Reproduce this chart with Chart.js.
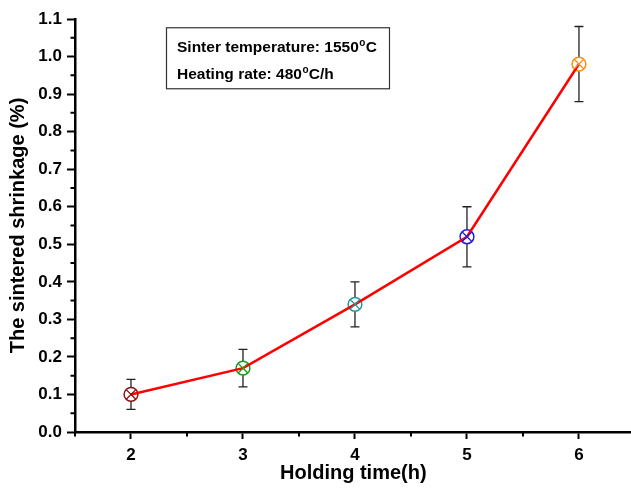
<!DOCTYPE html>
<html>
<head>
<meta charset="utf-8">
<script src="https://cdn.jsdelivr.net/npm/chart.js@4"></script>
<style>
html,body{margin:0;padding:0;background:#fff;overflow:hidden;}
#wrap{width:631px;height:488px;position:relative;overflow:hidden;}
</style>
</head>
<body>
<div id="wrap"><canvas id="c" width="640" height="488"></canvas></div>
<script>
const holdingTime = [2, 3, 4, 5, 6];
const shrinkage = [0.10, 0.17, 0.34, 0.52, 0.98];
const shrinkageErr = [0.04, 0.05, 0.06, 0.08, 0.10];
const markerColors = ['#8B1010', '#1A9A1A', '#1A9A9A', '#2020D8', '#FF8C10'];
const xTickValues = [2, 3, 4, 5, 6];
const yTickValues = [0, 0.1, 0.2, 0.3, 0.4, 0.5, 0.6, 0.7, 0.8, 0.9, 1.0, 1.1];
const annotationLines = [['Sinter temperature: 1550', 'o', 'C'], ['Heating rate: 480', 'o', 'C/h']];

const FONT = '"Liberation Sans", Arial, Helvetica, sans-serif';
const pts = holdingTime.map((x, i) => ({x: x, y: shrinkage[i]}));

const errorBars = {
  id: 'errorBars',
  beforeDatasetsDraw(chart) {
    const ctx = chart.ctx, xs = chart.scales.x, ys = chart.scales.y;
    ctx.save();
    ctx.strokeStyle = '#222';
    ctx.lineWidth = 1.3;
    holdingTime.forEach((x, i) => {
      const px = xs.getPixelForValue(x);
      const top = ys.getPixelForValue(shrinkage[i] + shrinkageErr[i]);
      const bot = ys.getPixelForValue(shrinkage[i] - shrinkageErr[i]);
      ctx.beginPath();
      ctx.moveTo(px, top); ctx.lineTo(px, bot);
      ctx.moveTo(px - 4.5, top); ctx.lineTo(px + 4.5, top);
      ctx.moveTo(px - 4.5, bot); ctx.lineTo(px + 4.5, bot);
      ctx.stroke();
    });
    ctx.restore();
  }
};

const minorTicks = {
  id: 'minorTicks',
  afterDraw(chart) {
    const ctx = chart.ctx, xs = chart.scales.x, ys = chart.scales.y;
    const a = chart.chartArea;
    ctx.save();
    ctx.strokeStyle = '#000';
    ctx.lineWidth = 2;
    ctx.beginPath();
    for (let v = 1.5; v <= 6.5; v += 1) {
      const px = xs.getPixelForValue(v);
      if (px > a.right + 1) continue;
      ctx.moveTo(px, a.bottom); ctx.lineTo(px, a.bottom + 4.5);
    }
    for (let k = 0; k < 11; k++) {
      const v = 0.05 + 0.1 * k;
      const py = ys.getPixelForValue(v);
      ctx.moveTo(a.left, py); ctx.lineTo(a.left - 4.5, py);
    }
    ctx.stroke();

    // annotation box
    const bx = 166, by = ys.getPixelForValue(1.078);
    const bw = 223, bh = 61;
    ctx.lineWidth = 1.2;
    ctx.strokeStyle = '#333';
    ctx.strokeRect(bx + 0.5, by + 0.5, bw, bh);
    ctx.fillStyle = '#000';
    ctx.textBaseline = 'alphabetic';
    annotationLines.forEach((ln, i) => {
      let tx = bx + 11;
      const ty = by + 25 + i * 27;
      ctx.font = 'bold 15.5px ' + FONT;
      ctx.fillText(ln[0], tx, ty);
      tx += ctx.measureText(ln[0]).width + 0.5;
      ctx.font = 'bold 10px ' + FONT;
      ctx.fillText(ln[1], tx, ty - 6);
      tx += ctx.measureText(ln[1]).width + 0.3;
      ctx.font = 'bold 15.5px ' + FONT;
      ctx.fillText(ln[2], tx, ty);
    });
    ctx.restore();
  }
};

new Chart(document.getElementById('c'), {
  type: 'line',
  data: {
    datasets: [
      {
        data: pts,
        borderColor: '#FF0000',
        borderWidth: 2.5,
        pointStyle: 'crossRot',
        pointRadius: 6.8,
        pointBorderWidth: 1.3,
        pointBorderColor: markerColors,
        pointBackgroundColor: markerColors,
        tension: 0,
        order: 1
      },
      {
        data: pts,
        showLine: false,
        pointStyle: 'circle',
        pointRadius: 6.9,
        pointBorderWidth: 1.5,
        pointBorderColor: markerColors,
        pointBackgroundColor: '#ffffff',
        order: 2
      }
    ]
  },
  plugins: [errorBars, minorTicks],
  options: {
    responsive: false,
    animation: false,
    events: [],
    layout: {padding: {top: 19, right: 0, left: 0, bottom: 0}},
    plugins: {legend: {display: false}, tooltip: {enabled: false}},
    scales: {
      x: {
        type: 'linear',
        min: 1.5,
        max: 6.47,
        afterBuildTicks(s) { s.ticks = xTickValues.map(v => ({value: v})); },
        afterFit(s) { s.height = 56; },
        border: {display: true, color: '#000', width: 2.5},
        grid: {display: true, drawOnChartArea: false, drawTicks: true, tickLength: 7, tickWidth: 2, tickColor: '#000'},
        ticks: {color: '#000', font: {family: FONT, size: 17, weight: 'bold'}, padding: 6, maxRotation: 0,
          callback: v => String(v)},
        title: {display: true, text: 'Holding time(h)', color: '#000', font: {family: FONT, size: 20, weight: 'bold'}, padding: {top: 0, bottom: 3}}
      },
      y: {
        type: 'linear',
        min: 0,
        max: 1.1,
        afterBuildTicks(s) { s.ticks = yTickValues.map(v => ({value: v})); },
        afterFit(s) { s.width = 75; },
        border: {display: true, color: '#000', width: 2.5},
        grid: {display: true, drawOnChartArea: false, drawTicks: true, tickLength: 8, tickWidth: 2, tickColor: '#000'},
        ticks: {color: '#000', font: {family: FONT, size: 17, weight: 'bold'}, padding: 5,
          callback: v => Number(v).toFixed(1)},
        title: {display: true, text: 'The sintered shrinkage (%)', color: '#000', font: {family: FONT, size: 20, weight: 'bold'}, padding: {top: 6, bottom: 4}}
      }
    }
  }
});
</script>
</body>
</html>
